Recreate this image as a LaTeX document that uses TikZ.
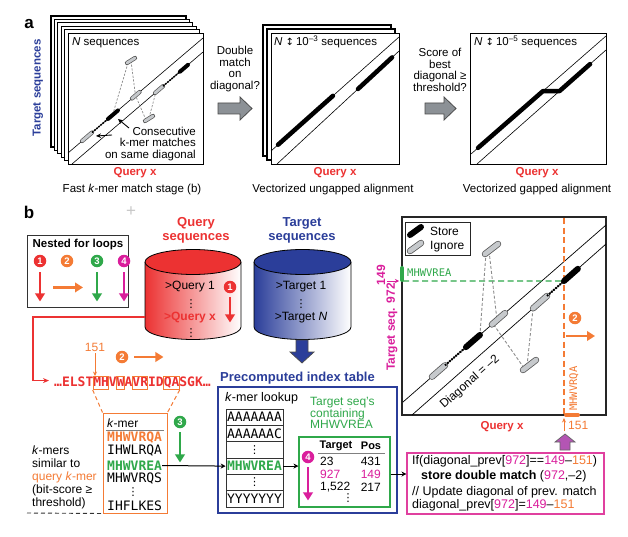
\documentclass[tikz,border=0pt]{standalone}
\usepackage{fontspec}
\setmainfont{Liberation Sans}
\newfontfamily\seqfont{DejaVu Sans Mono}
\newfontfamily\djv{DejaVu Sans}
\usetikzlibrary{arrows.meta,calc}
\definecolor{qred}{HTML}{EC3232}
\definecolor{org}{HTML}{F47B35}
\definecolor{grn}{HTML}{2FA84A}
\definecolor{mag}{HTML}{DA1E9C}
\definecolor{pnk}{HTML}{E0409F}
\definecolor{tblue}{HTML}{2B3E9A}
\definecolor{capg}{HTML}{C6C9CC}
\definecolor{arrg}{HTML}{8C9196}
\definecolor{purp}{HTML}{B455B4}
\newcommand\fsz[2]{\fontsize{#1}{#2}\selectfont}
\newcommand\vd{{\djv ⋮}}
\newcommand\gcap[4]{\draw[line width=#1, line cap=round, draw=black!65] #3 -- #4; \draw[line width=#2, line cap=round, draw=capg] #3 -- #4;}
\def\cw{7.8267}
\begin{document}
\begin{tikzpicture}[x=1pt,y=-1pt,
 frm/.style={draw=black, fill=white, line width=1.1pt},
 diag/.style={draw=black, line width=0.6pt},
 thk/.style={line width=4.5pt, line cap=round, line join=round},
 dsh/.style={draw=black!45, line width=0.9pt, dash pattern=on 3pt off 2pt},
 kchain/.style={line width=2pt, dash pattern=on 1.6pt off 1.2pt},
 txt/.style={inner sep=0pt, font=\fsz{11.5}{13}},
 tb/.style={inner sep=0pt, font=\bfseries\fsz{11.5}{13}},
 ttl/.style={inner sep=0pt, font=\bfseries\fsz{13}{13.5}, align=center},
 numc/.style={circle, fill=#1, text=white, inner sep=0pt, minimum size=12.5pt, font=\bfseries\fsz{9.5}{10}},
 fat/.style={draw=#1, line width=2.6pt, -{Triangle[length=8pt,width=9.5pt]}},
 mono/.style={inner sep=0pt, font=\seqfont\fsz{13}{13}},
 sbox/.style={draw=org, line width=0.9pt, minimum height=13pt, inner sep=0pt},
 cell/.style={draw=black!80, line width=0.7pt, minimum width=57pt, minimum height=16.3pt, inner sep=0pt, font=\seqfont\fsz{13}{13}},
 blk/.style={draw=black!70, line width=0.8pt, fill=arrg},
]
\useasboundingbox[fill=white] (0,0) rectangle (628,537);

%%%%%%%%%%%%%%%% PANEL A %%%%%%%%%%%%%%%%
\node[inner sep=0pt, font=\bfseries\fsz{17}{17}] (lba) at (29,24) {a};
\node[tb, text=tblue, rotate=90] (tseq) at (38,88) {Target sequences};

% stack 1
\foreach \k in {5,4,3,2,1}{
  \draw[frm] ({68-3.4*\k},{33-3.4*\k}) rectangle ++(135,131);
}
\node[frm, anchor=north west, minimum width=135pt, minimum height=131pt, inner sep=0pt] (f1) at (68,33) {};
\coordinate (p1u1) at (68,153); \coordinate (p1u2) at (203,38);
\coordinate (p1l1) at (72,164); \coordinate (p1l2) at (203,52);
\draw[diag] (p1u1) -- (p1u2);
\draw[diag] (p1l1) -- (p1l2);
\coordinate (t1a) at (127,63); \coordinate (t1b) at (135,58);
\coordinate (b1a) at (145,121); \coordinate (b1b) at (153,116);
\draw[dsh, line width=0.7pt, dash pattern=on 2.2pt off 1.5pt] (128,63) -- ($(p1u1)!0.33!(p1u2)$);
\draw[dsh, line width=0.7pt, dash pattern=on 2.2pt off 1.5pt] (131,61) -- ($(p1u1)!0.5!(p1u2)$);
\draw[dsh, line width=0.7pt, dash pattern=on 2.2pt off 1.5pt] (146,120) -- ($(p1u1)!0.5!(p1u2)$);
\draw[dsh, line width=0.7pt, dash pattern=on 2.2pt off 1.5pt] (149,118) -- ($(p1l1)!0.64!(p1l2)$);
\gcap{4.2pt}{2.8pt}{($(p1u1)!0.104!(p1u2)$)}{($(p1u1)!0.178!(p1u2)$)}
\draw[kchain, line width=1.5pt] ($(p1u1)!0.178!(p1u2)$) -- ($(p1u1)!0.296!(p1u2)$);
\draw[thk, line width=4pt] ($(p1u1)!0.296!(p1u2)$) -- ($(p1u1)!0.37!(p1u2)$);
\gcap{4.2pt}{2.8pt}{($(p1u1)!0.474!(p1u2)$)}{($(p1u1)!0.53!(p1u2)$)}
\gcap{4.2pt}{2.8pt}{($(p1l1)!0.634!(p1l2)$)}{($(p1l1)!0.695!(p1l2)$)}
\draw[kchain, line width=1.5pt] ($(p1l1)!0.695!(p1l2)$) -- ($(p1l1)!0.824!(p1l2)$);
\draw[thk, line width=4pt] ($(p1l1)!0.824!(p1l2)$) -- ($(p1l1)!0.885!(p1l2)$);
\gcap{4.2pt}{2.8pt}{(t1a)}{(t1b)}
\gcap{4.2pt}{2.8pt}{(b1a)}{(b1b)}
\node[txt, anchor=west] (n1) at (72,43) {\textit{N} sequences};
\node[txt, font=\fsz{11.5}{11.2}, align=right, anchor=east] (cons) at (196,144) {Consecutive\\k-mer matches\\on same diagonal};
\coordinate (ar1s) at (129,128); \coordinate (ar1e) at (118,119);
\coordinate (ar2s) at (112,135); \coordinate (ar2e) at (96,136);
\draw[line width=0.9pt, -{Stealth[length=5pt,width=4.5pt]}] (ar1s) -- (ar1e);
\draw[line width=0.9pt, -{Stealth[length=5pt,width=4.5pt]}] (ar2s) -- (ar2e);
\node[tb, text=qred] (qx1) at (135,173) {Query x};
\node[txt] (cap1) at (132,190) {Fast \textit{k}-mer match stage (b)};

% arrow 1 -> 2
\draw[blk] (218,103) -- (240,103) -- (240,97) -- (252,108.5) -- (240,120) -- (240,114) -- (218,114) -- cycle;
\node[txt, font=\fsz{11.5}{11.6}, align=center] (dm) at (235,69) {Double\\match\\on\\diagonal?};

% stack 2
\foreach \k in {2,1}{
  \draw[frm] ({271-4*\k},{33-4*\k}) rectangle ++(128,131);
}
\node[frm, anchor=north west, minimum width=128pt, minimum height=131pt, inner sep=0pt] (f2) at (271,33) {};
\coordinate (p2u1) at (271,151); \coordinate (p2u2) at (399,37);
\coordinate (p2l1) at (277,164); \coordinate (p2l2) at (399,51);
\draw[diag] (p2u1) -- (p2u2);
\draw[diag] (p2l1) -- (p2l2);
\draw[thk] ($(p2u1)!0.055!(p2u2)$) -- ($(p2u1)!0.484!(p2u2)$);
\draw[thk] ($(p2l1)!0.664!(p2l2)$) -- ($(p2l1)!0.943!(p2l2)$);
\node[txt, anchor=west] (n2) at (274,42) {\textit{N} {\djv\fsz{10}{10}↕}\,10\textsuperscript{–3} sequences};
\node[tb, text=qred] (qx2) at (335,173) {Query x};
\node[txt] (cap2) at (333,190) {Vectorized ungapped alignment};

% arrow 2 -> 3
\draw[blk] (425,103) -- (444,103) -- (444,97) -- (456,108.5) -- (444,120) -- (444,114) -- (425,114) -- cycle;
\node[txt, font=\fsz{11.5}{11.6}, align=center] (sb) at (440,70) {Score of\\best\\diagonal ≥\\threshold?};

% panel 3
\node[frm, anchor=north west, minimum width=136pt, minimum height=131pt, inner sep=0pt] (f3) at (470,33) {};
\coordinate (p3u1) at (471,154); \coordinate (p3u2) at (606,36);
\coordinate (p3l1) at (477,164); \coordinate (p3l2) at (606,50);
\draw[diag] (p3u1) -- (p3u2);
\draw[diag] (p3l1) -- (p3l2);
\draw[thk] ($(p3u1)!0.052!(p3u2)$) -- ($(p3u1)!0.533!(p3u2)$) -- ($(p3l1)!0.64!(p3l2)$) -- ($(p3l1)!0.876!(p3l2)$);
\node[txt, anchor=west] (n3) at (474,42) {\textit{N} {\djv\fsz{10}{10}↕}\,10\textsuperscript{–5} sequences};
\node[tb, text=qred] (qx3) at (537,173) {Query x};
\node[txt] (cap3) at (537,190) {Vectorized gapped alignment};

%%%%%%%%%%%%%%%% PANEL B %%%%%%%%%%%%%%%%
\node[inner sep=0pt, font=\bfseries\fsz{17}{17}] (lbb) at (29,212) {b};
\node[inner sep=0pt, text=black!22, font=\fsz{17}{17}] (plus) at (131,212) {+};

% nested loops
\node[draw=black!80, line width=1pt, minimum width=101pt, minimum height=72pt, inner sep=0pt] (nest) at (77.5,271) {};
\node[tb] (nestt) at (78,245) {Nested for loops};
\node[numc=qred] (nc1) at (40,261) {1};
\node[numc=org] (nc2) at (67,261) {2};
\node[numc=grn] (nc3) at (97,261) {3};
\node[numc=mag] (nc4) at (124,261) {4};
\draw[fat=qred] ($(nc1.south)+(0,5)$) -- ++(0,29);
\draw[fat=org] ($(nc2.south)+(-14,20)$) -- ++(30,0);
\draw[fat=grn] ($(nc3.south)+(0,5)$) -- ++(0,29);
\draw[fat=mag] ($(nc4.south)+(0,5)$) -- ++(0,29);

% cylinders
\node[ttl, text=qred] (qst) at (196,230.5) {Query\\sequences};
\node[ttl, text=tblue] (tst) at (302,230.5) {Target\\sequences};
\path[left color=qred, middle color=qred!55!white, right color=white] (145,262) -- (145,327) arc[start angle=180, end angle=0, x radius=48, y radius=12.5] -- (241,262) -- cycle;
\draw[line width=0.8pt] (145,262) -- (145,327) arc[start angle=180, end angle=0, x radius=48, y radius=12.5] -- (241,262);
\draw[line width=0.8pt, fill=qred] (193,262) ellipse [x radius=48, y radius=12.5];
\path[left color=tblue, middle color=tblue!70!white, right color=white] (254,262) -- (254,327) arc[start angle=180, end angle=0, x radius=48.5, y radius=12.5] -- (351,262) -- cycle;
\draw[line width=0.8pt] (254,262) -- (254,327) arc[start angle=180, end angle=0, x radius=48.5, y radius=12.5] -- (351,262);
\draw[line width=0.8pt, fill=tblue] (302.5,262) ellipse [x radius=48.5, y radius=12.5];
\node[inner sep=0pt, font=\fsz{12}{12}] (q1) at (190,287) {>Query 1};
\node[inner sep=0pt, font=\fsz{11}{11}] (qd1) at (191,304) {\vd};
\node[inner sep=0pt, font=\bfseries\fsz{12}{12}, text=qred] (qxx) at (190,318) {>Query x};
\node[inner sep=0pt, font=\fsz{11}{11}] (qd2) at (191,333) {\vd};
\node[numc=qred] (cq1) at (230,287) {1};
\draw[fat=qred] ($(cq1.south)+(0,4)$) -- ++(0,25);
\node[inner sep=0pt, font=\fsz{12}{12}] (t1) at (301,287) {>Target 1};
\node[inner sep=0pt, font=\fsz{11}{11}] (td1) at (301,304) {\vd};
\node[inner sep=0pt, font=\fsz{12}{12}] (tn) at (301,318) {>Target \textit{N}};
\draw[fill=tblue, draw=black!70, line width=0.7pt] (296,340) -- (308,340) -- (308,352) -- (314,352) -- (302,363) -- (290,352) -- (296,352) -- cycle;

% query sequence
\coordinate (qcL) at (145,317);
\node[anchor=base west, inner sep=0pt, font=\seqfont\bfseries\fsz{13}{13}, text=qred] (seqtxt) at (54,386) {…ELSTMHVWAVRIDQASGK…};
\draw[qred, line width=1.2pt, -{Stealth[length=6pt,width=5pt]}] (qcL) -- (33,317) |- ($(seqtxt.west)+(-5,-1.5)$);
\node[sbox, minimum width=15.65pt] (bmh) at ({54+6*\cw},383) {};
\node[sbox, minimum width=7.83pt] (bw) at ({54+8.5*\cw},383) {};
\node[sbox, minimum width=15.65pt] (bvr) at ({54+11*\cw},383) {};
\node[sbox, minimum width=15.65pt] (bqa) at ({54+15*\cw},383) {};
\node[inner sep=0pt, text=org, font=\fsz{12}{12}] (n151) at (95,347) {151};
\draw[org, line width=0.9pt, -{Stealth[length=4.5pt,width=4pt]}] ($(n151.south)+(0,2)$) -- (n151.south |- bmh.north);
\node[numc=org] (c2s) at (122,357) {2};
\draw[fat=org] ($(c2s.east)+(6,0)$) -- ++(29,0);

% k-mer box
\node[draw=org, line width=1pt, minimum width=64pt, minimum height=100pt, inner sep=0pt] (kbox) at (135,463) {};
\draw[org, line width=1pt, dash pattern=on 4pt off 3pt] (bmh.south west) -- (kbox.north west);
\draw[org, line width=1pt, dash pattern=on 4pt off 3pt] (bqa.south east) -- (kbox.north east);
\node[txt, font=\fsz{12}{12}, anchor=west] (kmh) at (107,423) {\textit{k}-mer};
\draw[black!50, line width=0.8pt] (106,430) -- (164,430);
\node[mono, anchor=west, text=org, font=\seqfont\bfseries\fsz{13}{13}] (k1) at (107,437.5) {MHWVRQA};
\node[mono, anchor=west] (k2) at (107,451) {IHWLRQA};
\node[mono, anchor=west, text=grn, font=\seqfont\bfseries\fsz{13}{13}] (kg) at (107,465.5) {MHWVREA};
\node[mono, anchor=west] (k4) at (107,479) {MHWVRQS};
\node[inner sep=0pt, font=\fsz{11}{11}] (kd) at (133,492) {\vd};
\node[mono, anchor=west] (k6) at (107,506) {IHFLKES};
\node[numc=grn] (c3s) at (180,422) {3};
\draw[fat=grn] ($(c3s.south)+(0,4)$) -- ++(0,30);
\node[inner sep=0pt, font=\fsz{12}{12.8}, align=left, anchor=north west] (simtxt) at (32,446) {\textit{k}-mers\\similar to\\\textcolor{org}{query \textit{k}-mer}\\(bit-score ≥\\threshold)};
\draw[black!80, line width=0.9pt, dash pattern=on 4pt off 3pt] (27,513) -- (kbox.south west);

% index table
\node[inner sep=0pt, font=\bfseries\fsz{13}{13}, text=tblue, anchor=west] (itt) at (220,378) {Precomputed index table};
\node[draw=tblue, line width=1.1pt, minimum width=179pt, minimum height=126pt, inner sep=0pt] (itab) at (307.5,450) {};
\node[inner sep=0pt, font=\fsz{12.5}{12.5}, anchor=west] (kl) at (225,398) {\textit{k}-mer lookup};
\node[cell] (c1) at (254.5,417.2) {AAAAAAA};
\node[cell] (c2) at (254.5,433.5) {AAAAAAC};
\node[cell, font=\fsz{11}{11}] (c3) at (254.5,449.8) {\vd};
\node[cell, text=grn, font=\seqfont\bfseries\fsz{13}{13}] (lg) at (254.5,466.1) {MHWVREA};
\node[cell, font=\fsz{11}{11}] (c5) at (254.5,482.4) {\vd};
\node[cell] (c6) at (254.5,498.7) {YYYYYYY};
\draw[line width=1pt, -{Stealth[length=5pt,width=5pt]}] (kg.east) -- (lg.west);
\node[inner sep=0pt, font=\fsz{12}{11.6}, text=grn, align=left, anchor=north west] (tsc) at (310,397) {Target seq's\\containing\\MHWVREA};
\node[draw=grn, line width=1.1pt, minimum width=91pt, minimum height=70pt, inner sep=0pt] (gbox) at (344.5,472) {};
\draw[line width=1pt, -{Stealth[length=5pt,width=5pt]}] (lg.east) -- (lg.east -| gbox.west);
\node[inner sep=0pt, font=\bfseries\fsz{11}{11}] (hT) at (336,446) {Target};
\node[inner sep=0pt, font=\bfseries\fsz{11}{11}] (hP) at (371,446) {Pos};
\draw[black!50, line width=0.8pt] (318,453) -- (385,453);
\node[inner sep=0pt, font=\fsz{12}{12}, anchor=west] (r1a) at (320,461) {23};
\node[inner sep=0pt, font=\fsz{12}{12}, anchor=east] (r1b) at (381,461) {431};
\node[inner sep=0pt, font=\fsz{12}{12}, anchor=west, text=mag] (r2a) at (320,474) {927};
\node[inner sep=0pt, font=\fsz{12}{12}, anchor=east, text=mag] (r2b) at (381,474) {149};
\node[inner sep=0pt, font=\fsz{12}{12}, anchor=west] (r3a) at (320,487) {1,522};
\node[inner sep=0pt, font=\fsz{12}{12}, anchor=east] (r3b) at (381,487) {217};
\node[inner sep=0pt, font=\fsz{11}{11}] (rd) at (348,498) {\vd};
\node[numc=mag] (c4s) at (308,457) {4};
\draw[fat=mag] ($(c4s.south)+(0,4)$) -- ++(0,33);

% pink code box
\node[draw=pnk, line width=1.1pt, minimum width=197pt, minimum height=61pt, inner sep=0pt] (pbox) at (505.5,483.5) {};
\draw[line width=1pt, -{Stealth[length=5pt,width=5pt]}] ($(gbox.east)+(0,2)$) -- ($(gbox.east -| pbox.west)+(0,2)$);
\node[inner sep=0pt, font=\fsz{12.5}{12.5}, anchor=west] (pl1) at (412,461) {If(diagonal\_prev[\textcolor{mag}{972}]==\textcolor{mag}{149}–\textcolor{org}{151})};
\node[inner sep=0pt, font=\fsz{12.5}{12.5}, anchor=west] (pl2) at (421,476) {\textbf{store double match} (\textcolor{mag}{972},–2)};
\node[inner sep=0pt, font=\fsz{12.5}{12.5}, anchor=west] (pl3) at (412,492) {// Update diagonal of prev. match};
\node[inner sep=0pt, font=\fsz{12.5}{12.5}, anchor=west] (pl4) at (412,505) {diagonal\_prev[\textcolor{mag}{972}]=\textcolor{mag}{149}–\textcolor{org}{151}};
\draw[fill=purp, draw=black!60, line width=0.7pt] (560,450) -- (560,442) -- (555,442) -- (565,434) -- (575,442) -- (570,442) -- (570,450) -- cycle;

% right plot
\node[draw=black!85, line width=1.2pt, minimum width=204pt, minimum height=198pt, inner sep=0pt] (rplot) at (504,316) {};
\coordinate (ru1) at (403,402); \coordinate (ru2) at (606,225);
\coordinate (rl1) at (412,415); \coordinate (rl2) at (606,244);
\draw[diag, line width=0.7pt] (ru1) -- (ru2);
\draw[diag, line width=0.7pt] (rl1) -- (rl2);
\draw[grn, line width=1.3pt, dash pattern=on 6pt off 3.5pt] (403,281) -- ($(rl1)!0.7835!(rl2)$);
\draw[org, line width=1.3pt, dash pattern=on 6pt off 3.5pt] (564,218) -- (564,414);
\coordinate (rta) at (485,254); \coordinate (rtb) at (498,244);
\coordinate (rba) at (523,370); \coordinate (rbb) at (536,360);
\draw[dsh] (486,253) -- ($(ru1)!0.379!(ru2)$);
\draw[dsh] (489,251) -- ($(ru1)!0.463!(ru2)$);
\draw[dsh] (524,368) -- ($(ru1)!0.443!(ru2)$);
\draw[dsh] (527,366) -- ($(rl1)!0.624!(rl2)$);
\gcap{6.4pt}{4.8pt}{($(ru1)!0.143!(ru2)$)}{($(ru1)!0.207!(ru2)$)}
\draw[kchain] ($(ru1)!0.207!(ru2)$) -- ($(ru1)!0.31!(ru2)$);
\draw[thk, line width=6pt] ($(ru1)!0.31!(ru2)$) -- ($(ru1)!0.379!(ru2)$);
\gcap{6.4pt}{4.8pt}{($(ru1)!0.438!(ru2)$)}{($(ru1)!0.502!(ru2)$)}
\gcap{6.4pt}{4.8pt}{($(rl1)!0.624!(rl2)$)}{($(rl1)!0.696!(rl2)$)}
\draw[kchain] ($(rl1)!0.696!(rl2)$) -- ($(rl1)!0.7835!(rl2)$);
\draw[thk, line width=6pt] ($(rl1)!0.7835!(rl2)$) -- ($(rl1)!0.855!(rl2)$);
\gcap{6.4pt}{4.8pt}{(rta)}{(rtb)}
\gcap{6.4pt}{4.8pt}{(rba)}{(rbb)}
% legend
\node[draw=black!85, line width=1pt, fill=white, minimum width=65pt, minimum height=33pt, inner sep=0pt] (leg) at (437.5,238.5) {};
\coordinate (lsa) at (410,235); \coordinate (lsb) at (421,227);
\coordinate (lia) at (410,251); \coordinate (lib) at (421,243);
\draw[thk, line width=6pt] (lsa) -- (lsb);
\gcap{6.4pt}{4.8pt}{(lia)}{(lib)}
\node[inner sep=0pt, font=\fsz{12}{12}, anchor=west] (lst) at (430,231) {Store};
\node[inner sep=0pt, font=\fsz{12}{12}, anchor=west] (lig) at (430,247) {Ignore};
% markers and labels
\draw[grn, line width=4pt, line cap=round] (402,268) -- (402,280);
\node[inner sep=0pt, anchor=base west, text=grn, font=\seqfont\fsz{10.5}{10.5}] (mhg) at (407,276) {MHWVREA};
\draw[org, line width=4pt, line cap=round] (566,415) -- (578,415);
\node[inner sep=0pt, anchor=base west, rotate=90, text=org, font=\seqfont\fsz{10.5}{10.5}] (mho) at (577,411) {MHWVRQA};
\node[inner sep=0pt, font=\fsz{12}{12}, rotate=41.4] (dgl) at (470,382) {Diagonal = –2};
\node[numc=org] (c2r) at (575,318) {2};
\draw[fat=org] (566,336) -- (595,336);
\node[tb, text=qred] (qxr) at (502,427) {Query x};
\node[inner sep=0pt, font=\fsz{12}{12}, text=org, anchor=west] (r151) at (568,425) {151};
\draw[org, line width=0.9pt, -{Stealth[length=4.5pt,width=4pt]}] (564,431) -- (564,418);
\node[inner sep=0pt, font=\bfseries\fsz{12}{12}, text=mag, rotate=90] (tsq) at (392,327) {Target seq. 972};
\node[inner sep=0pt, font=\bfseries\fsz{12}{12}, text=mag, rotate=90] (p149) at (381,275) {149};
\draw[mag, line width=0.9pt, -{Stealth[length=4pt,width=4pt]}] (387,281) -- (399,281);
\end{tikzpicture}
\end{document}
